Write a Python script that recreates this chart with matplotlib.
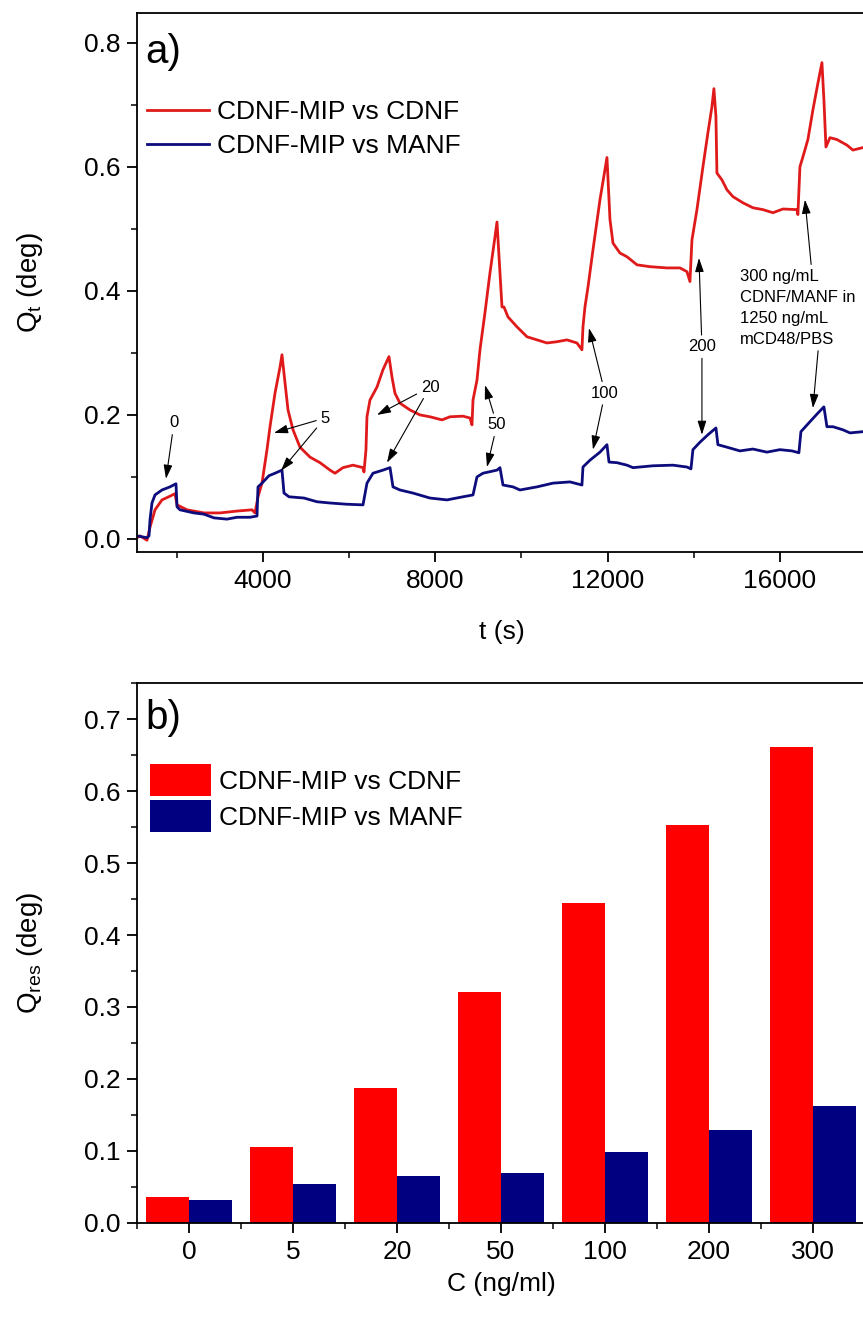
import numpy as np
import matplotlib
matplotlib.use('Agg')
import matplotlib.pyplot as plt
import matplotlib.ticker as ticker

plt.rcParams['font.family'] = 'Liberation Sans'
plt.rcParams['mathtext.fontset'] = 'custom'
plt.rcParams['mathtext.rm'] = 'Liberation Sans'
plt.rcParams['mathtext.it'] = 'Liberation Sans:italic'

# a) sensorgram, CDNF-MIP vs CDNF
t_cdnf = [1075, 1145, 1307, 1377, 1493, 1655, 1841, 1957, 2004, 2236, 2630, 3002, 3397, 3745, 3814,
          3884, 3977, 4093, 4163, 4279, 4395, 4441, 4511, 4581, 4697, 4859, 5091, 5324, 5556, 5672, 5857, 6089, 6322, 6345,
          6391, 6414, 6484, 6647, 6786, 6925, 6995, 7064, 7180, 7413, 7645, 7877, 8156, 8341, 8643, 8806, 8852,
          8876, 8968, 9038, 9154, 9270, 9386, 9433, 9502, 9549, 9595, 9688, 9897, 10129, 10361, 10593, 10825, 11057, 11289, 11405,
          11429, 11475, 11545, 11661, 11824, 11986, 12056, 12126, 12288, 12451, 12683, 12985, 13379, 13681, 13843, 13913,
          13959, 14075, 14214, 14330, 14423, 14469, 14516, 14539, 14655, 14771, 14910, 15142, 15374, 15606, 15839, 16071, 16396, 16419,
          16466, 16535, 16651, 16768, 16884, 16977, 17023, 17070, 17163, 17325, 17557, 17697, 17929, 18000]
q_cdnf = [0.002, 0.005, -0.002, 0.019, 0.047, 0.063, 0.069, 0.073, 0.055, 0.047, 0.042, 0.042, 0.045, 0.047, 0.042,
          0.068, 0.090, 0.144, 0.181, 0.235, 0.277, 0.297, 0.252, 0.208, 0.176, 0.148, 0.132, 0.123, 0.111, 0.106, 0.115, 0.119, 0.115, 0.108,
          0.144, 0.197, 0.224, 0.245, 0.273, 0.294, 0.261, 0.235, 0.219, 0.208, 0.200, 0.197, 0.192, 0.197, 0.198, 0.195, 0.184,
          0.224, 0.256, 0.305, 0.365, 0.429, 0.487, 0.511, 0.429, 0.374, 0.374, 0.358, 0.342, 0.326, 0.321, 0.316, 0.318, 0.321, 0.316, 0.305,
          0.342, 0.374, 0.406, 0.466, 0.547, 0.615, 0.515, 0.477, 0.461, 0.455, 0.442, 0.439, 0.437, 0.437, 0.431, 0.415,
          0.482, 0.531, 0.600, 0.655, 0.697, 0.726, 0.681, 0.590, 0.579, 0.563, 0.552, 0.542, 0.534, 0.531, 0.526, 0.532, 0.531, 0.523,
          0.600, 0.616, 0.644, 0.692, 0.735, 0.768, 0.708, 0.632, 0.647, 0.644, 0.635, 0.627, 0.631, 0.628]

# a) sensorgram, CDNF-MIP vs MANF
t_manf = [1075, 1307, 1354, 1377, 1423, 1493, 1655, 1841, 1980, 2004, 2073, 2398, 2630, 2863, 3164, 3397, 3698, 3861,
          3884, 3977, 4139, 4279, 4441, 4488, 4604, 4952, 5254, 5556, 5950, 6322,
          6414, 6554, 6786, 6949, 7018, 7180, 7482, 7877, 8272, 8643, 8876,
          8968, 9107, 9433, 9502, 9572, 9804, 9967, 10361, 10732, 11127, 11405,
          11429, 11591, 11824, 11986, 12033, 12218, 12451, 12590, 13054, 13518, 13843, 13936,
          13982, 14145, 14330, 14516, 14562, 14771, 15073, 15374, 15699, 16001, 16280, 16442,
          16489, 16698, 16884, 17023, 17093, 17232, 17464, 17627, 17929, 18000]
q_manf = [0.005, 0.002, 0.005, 0.031, 0.058, 0.071, 0.079, 0.084, 0.089, 0.052, 0.047, 0.042, 0.040, 0.034, 0.032, 0.035, 0.035, 0.037,
          0.084, 0.090, 0.102, 0.106, 0.111, 0.074, 0.068, 0.066, 0.060, 0.058, 0.056, 0.055,
          0.090, 0.106, 0.111, 0.115, 0.084, 0.079, 0.074, 0.066, 0.063, 0.068, 0.071,
          0.100, 0.106, 0.111, 0.115, 0.087, 0.084, 0.079, 0.084, 0.090, 0.092, 0.087,
          0.116, 0.127, 0.140, 0.152, 0.124, 0.123, 0.119, 0.115, 0.118, 0.119, 0.116, 0.113,
          0.144, 0.156, 0.168, 0.179, 0.152, 0.148, 0.142, 0.145, 0.140, 0.144, 0.142, 0.139,
          0.173, 0.189, 0.203, 0.213, 0.181, 0.181, 0.176, 0.171, 0.173, 0.172]

# b) residual response per concentration (ng/ml)
conc_labels = ['0', '5', '20', '50', '100', '200', '300']
qres_cdnf = [0.036, 0.106, 0.187, 0.321, 0.445, 0.553, 0.661]
qres_manf = [0.032, 0.054, 0.065, 0.069, 0.099, 0.129, 0.163]

RED_LINE = '#e01a1a'
BLUE_LINE = '#0c0c7c'
RED_BAR = '#ff0000'
BLUE_BAR = '#000080'

W, H = 863, 1317
fig = plt.figure(figsize=(W / 100, H / 100), dpi=100)

ax1 = fig.add_axes([137 / W, 1 - 552 / H, 729 / W, 539 / H])
ax2 = fig.add_axes([137 / W, 1 - 1223 / H, 728 / W, 540 / H])

# ---- panel a ----
ax1.plot(t_cdnf, q_cdnf, color=RED_LINE, lw=2.0, label='CDNF-MIP vs CDNF')
ax1.plot(t_manf, q_manf, color=BLUE_LINE, lw=2.0, label='CDNF-MIP vs MANF')
ax1.set_xlim(1075, 18000)
ax1.set_ylim(-0.021, 0.848)
ax1.xaxis.set_major_locator(ticker.MultipleLocator(4000))
ax1.xaxis.set_minor_locator(ticker.MultipleLocator(2000))
ax1.yaxis.set_major_locator(ticker.MultipleLocator(0.2))
ax1.yaxis.set_minor_locator(ticker.MultipleLocator(0.1))
ax1.yaxis.set_major_formatter(ticker.FormatStrFormatter('%.1f'))
ax1.set_xlabel('t (s)', fontsize=19, labelpad=20)
ax1.set_ylabel(r'Q$_\mathregular{t}$ (deg)', fontsize=20, labelpad=28)
ax1.text(0.011, 0.962, 'a)', transform=ax1.transAxes, fontsize=29, va='top', ha='left')
ax1.legend(loc='upper left', bbox_to_anchor=(0.014, 0.838), frameon=False, fontsize=19,
           handlelength=2.35, handletextpad=0.3, labelspacing=0.38, borderpad=0, borderaxespad=0)

# concentration markers on the sensorgram
arrow_kw = dict(arrowstyle='-|>,head_length=0.7,head_width=0.22', color='black',
                lw=0.8, shrinkA=1, shrinkB=0)
marks = [('0', (1934, 0.187), [(1748, 0.097)]),
         ('5', (5439, 0.195), [(4255, 0.171), (4418, 0.110)]),
         ('20', (7877, 0.245), [(6647, 0.200), (6879, 0.123)]),
         ('50', (9432, 0.184), [(9154, 0.248), (9200, 0.116)]),
         ('100', (11940, 0.235), [(11568, 0.340), (11661, 0.144)]),
         ('200', (14191, 0.310), [(14122, 0.453), (14191, 0.168)])]
for label, xytext, targets in marks:
    for i, xy in enumerate(targets):
        # repeated labels are drawn transparent so each arrow still starts at the text edge
        ax1.annotate(label, xy=xy, xytext=xytext, fontsize=12, ha='center', va='center',
                     color='black' if i == 0 else 'none', arrowprops=arrow_kw)

note = '300 ng/mL\nCDNF/MANF in\n1250 ng/mL\nmCD48/PBS'
note_kw = dict(fontsize=12, ha='left', va='center', linespacing=1.5)
ax1.annotate(note, xy=(16583, 0.547), xytext=(15073, 0.373), **note_kw,
             arrowprops=dict(arrow_kw, relpos=(0.62, 1.0)))
ax1.annotate(note, xy=(16768, 0.211), xytext=(15073, 0.373), color='none', **note_kw,
             arrowprops=dict(arrow_kw, relpos=(0.68, 0.0)))

# ---- panel b ----
x = np.arange(len(conc_labels))
bw = 0.41
ax2.bar(x - bw / 2, qres_cdnf, width=bw, color=RED_BAR, label='CDNF-MIP vs CDNF')
ax2.bar(x + bw / 2, qres_manf, width=bw, color=BLUE_BAR, label='CDNF-MIP vs MANF')
ax2.set_xlim(-0.5, 6.5)
ax2.set_ylim(0, 0.75)
ax2.set_xticks(x)
ax2.set_xticklabels(conc_labels)
ax2.xaxis.set_minor_locator(ticker.FixedLocator(np.arange(-0.5, 7, 1)))
ax2.yaxis.set_major_locator(ticker.MultipleLocator(0.1))
ax2.yaxis.set_minor_locator(ticker.MultipleLocator(0.05))
ax2.yaxis.set_major_formatter(ticker.FormatStrFormatter('%.1f'))
ax2.set_xlabel('C (ng/ml)', fontsize=19, labelpad=6)
ax2.set_ylabel(r'Q$_\mathregular{res}$ (deg)', fontsize=20, labelpad=28)
ax2.text(0.011, 0.97, 'b)', transform=ax2.transAxes, fontsize=29, va='top', ha='left')
ax2.legend(loc='upper left', bbox_to_anchor=(0.018, 0.85), frameon=False, fontsize=19,
           handlelength=2.3, handleheight=1.5, handletextpad=0.3, labelspacing=0.15,
           borderpad=0, borderaxespad=0)

for ax in (ax1, ax2):
    for s in ax.spines.values():
        s.set_linewidth(1.3)
    ax.tick_params(which='major', direction='out', length=7, width=1.3, labelsize=19, pad=5)
    ax.tick_params(which='minor', direction='out', length=4, width=1.1)
    ax.tick_params(top=False, right=False, which='both')

fig.savefig('out.png', dpi=100)
